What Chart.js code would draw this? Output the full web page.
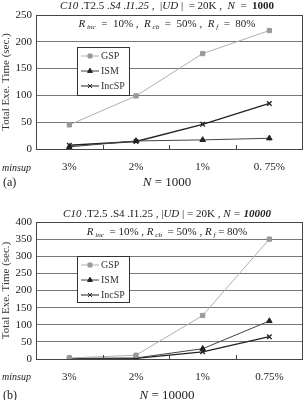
<!DOCTYPE html>
<html>
<head>
<meta charset="utf-8">
<script src="https://cdn.jsdelivr.net/npm/chart.js@4/dist/chart.umd.min.js"></script>
<style>
  body { margin: 0; background: #fff; }
  canvas { position: absolute; left: 0; }
</style>
</head>
<body>
<canvas id="chartA" width="308" height="200" style="top:0"></canvas>
<canvas id="chartB" width="308" height="200" style="top:200px"></canvas>
<script>
// DATA
const minsup = ['3%', '2%', '1%', '0.75%'];
const minsupA = ['3%', '2%', '1%', '0. 75%'];
const seriesNames = ['GSP', 'ISM', 'IncSP'];

const gspA = [45, 99, 178, 221];
const ismA = [4, 15, 17, 20];
const incA = [7, 14, 46, 85];

const gspB = [3, 11, 127, 350];
const ismB = [2, 3, 30, 111];
const incB = [1, 2, 21, 65];

const yMaxA = 250, yMaxB = 400, yStep = 50;

const SERIF = '"Liberation Serif", "DejaVu Serif", serif';

// rich text: parts are [text, style, sub]
function rich(ctx, parts, cx, y, size) {
    const fontOf = (p) => (p[1] || '').replace('b', 'bold ').replace('i', 'italic ') + (p[2] ? size * 0.65 : size) + 'px ' + SERIF;
    let total = 0;
    parts.forEach(p => { ctx.font = fontOf(p); total += ctx.measureText(p[0]).width; });
    let x = cx - total / 2;
    ctx.textBaseline = 'middle';
    ctx.textAlign = 'left';
    parts.forEach(p => {
        ctx.font = fontOf(p);
        ctx.fillText(p[0], x, p[2] ? y + 3 : y);
        x += ctx.measureText(p[0]).width;
    });
}

function makeDatasets(gsp, ism, inc) {
    return [
        { label: seriesNames[0], data: gsp, borderColor: '#b0b0b0', backgroundColor: '#999', borderWidth: 1,
          pointStyle: 'rect', pointRadius: 3, pointBorderColor: '#999', pointBackgroundColor: '#999' },
        { label: seriesNames[1], data: ism, borderColor: '#444', backgroundColor: '#222', borderWidth: 1,
          pointStyle: 'triangle', pointRadius: 3.2, pointBorderColor: '#222', pointBackgroundColor: '#222' },
        { label: seriesNames[2], data: inc, borderColor: '#222', backgroundColor: '#222', borderWidth: 1.3,
          pointStyle: 'crossRot', pointRadius: 3.2, pointBorderColor: '#222', pointBackgroundColor: '#222' }
    ];
}

// extras drawn on top: frame, ticks, titles, legend, captions
function extrasPlugin(cfg) {
    return {
        id: 'extras',
        beforeDraw(chart) {
            const ctx = chart.ctx;
            ctx.save();
            ctx.fillStyle = '#fff';
            ctx.fillRect(0, 0, chart.width, chart.height);
            ctx.restore();
        },
        afterDraw(chart) {
            const ctx = chart.ctx, a = chart.chartArea, xs = chart.scales.x;
            ctx.save();
            // frame
            ctx.strokeStyle = '#444';
            ctx.lineWidth = 1;
            ctx.strokeRect(Math.round(a.left) + 0.5, Math.round(a.top) + 0.5, Math.round(a.right - a.left) - 1, Math.round(a.bottom - a.top));
            // category boundary ticks
            for (let i = 0; i < minsup.length - 1; i++) {
                const bx = Math.round((xs.getPixelForValue(i) + xs.getPixelForValue(i + 1)) / 2) + 0.5;
                ctx.beginPath();
                ctx.moveTo(bx, a.bottom);
                ctx.lineTo(bx, a.bottom - 4);
                ctx.stroke();
            }
            ctx.fillStyle = '#222';
            rich(ctx, cfg.title, 167, cfg.titleY, 11);
            rich(ctx, cfg.sub, 167, cfg.subY, 11);

            // captions
            ctx.textBaseline = 'middle';
            ctx.textAlign = 'left';
            ctx.font = 'italic 10px ' + SERIF;
            ctx.fillText('minsup', 2, cfg.minsupY);
            ctx.font = '12px ' + SERIF;
            ctx.fillText(cfg.tag, 3, cfg.capY);
            rich(ctx, [['N', 'i'], [' = ' + cfg.n, '']], 167, cfg.capY, 13);

            // legend box
            const L = cfg.legend;
            ctx.fillStyle = '#fff';
            ctx.fillRect(L.x, L.y, L.w, L.h);
            ctx.strokeStyle = '#333';
            ctx.strokeRect(L.x + 0.5, L.y + 0.5, L.w, L.h);
            chart.data.datasets.forEach((ds, i) => {
                const ry = L.y + L.row0 + i * L.gap;
                ctx.strokeStyle = ds.borderColor;
                ctx.lineWidth = 1;
                ctx.beginPath();
                ctx.moveTo(L.x + 4, ry);
                ctx.lineTo(L.x + 22, ry);
                ctx.stroke();
                ctx.fillStyle = ds.pointBackgroundColor;
                ctx.strokeStyle = ds.pointBorderColor;
                Chart.helpers.drawPoint(ctx, { pointStyle: ds.pointStyle, radius: 2.8, borderWidth: 1, rotation: 0 }, L.x + 13, ry);
                ctx.fillStyle = '#333';
                ctx.font = '10px ' + SERIF;
                ctx.textBaseline = 'middle';
                ctx.fillText(ds.label, L.x + 24, ry);
            });
            ctx.restore();
        }
    };
}

function buildChart(id, labels, datasets, yMax, padTop, xHeight, cfg) {
    return new Chart(document.getElementById(id), {
        type: 'line',
        data: { labels: labels, datasets: datasets },
        options: {
            responsive: false,
            animation: false,
            devicePixelRatio: 1,
            layout: { padding: { top: padTop, right: 1, left: 0, bottom: 0 } },
            plugins: { legend: { display: false }, tooltip: { enabled: false } },
            elements: { line: { tension: 0 } },
            scales: {
                x: {
                    offset: true,
                    grid: { display: true, drawOnChartArea: false, drawTicks: false },
                    border: { display: true, color: '#444' },
                    ticks: { font: { family: SERIF, size: 11 }, color: '#222', padding: 12, maxRotation: 0 },
                    afterFit: s => { s.height = xHeight; }
                },
                y: {
                    min: 0, max: yMax,
                    ticks: { stepSize: yStep, font: { family: SERIF, size: 11 }, color: '#222', padding: 4 },
                    grid: { color: '#777', drawTicks: false },
                    border: { display: true, color: '#444' },
                    title: { display: true, text: 'Total Exe. Time (sec.)', font: { family: SERIF, size: 11 }, color: '#333', padding: 0 },
                    afterFit: s => { s.width = 36; }
                }
            }
        },
        plugins: [extrasPlugin(cfg)]
    });
}

const subPartsA = [['R', 'i'], [' inc', 'i', true], ['  =  10% ,  ', ''], ['R', 'i'], [' cb', 'i', true], ['  =  50% ,  ', ''], ['R', 'i'], [' f', 'i', true], ['  =  80%', '']];
const subPartsB = [['R', 'i'], [' inc', 'i', true], ['  = 10% , ', ''], ['R', 'i'], [' cb', 'i', true], ['  = 50% , ', ''], ['R', 'i'], [' f', 'i', true], [' = 80%', '']];

buildChart('chartA', minsupA, makeDatasets(gspA, ismA, incA), yMaxA, 15, 51, {
    title: [['C10', 'i'], [' .T2.5 ', ''], ['.S4 .I1.25', 'i'], [' ,  |', ''], ['UD', 'i'], [' |  = 20K ,  ', ''], ['N', 'i'], ['  =  ', ''], ['1000', 'b']],
    titleY: 6, sub: subPartsA, subY: 24,
    minsupY: 168, capY: 183, tag: '(a)', n: '1000',
    legend: { x: 77, y: 47, w: 52, h: 48, row0: 9, gap: 15 }
});

buildChart('chartB', minsup, makeDatasets(gspB, ismB, incB), yMaxB, 22, 41, {
    title: [['C10', 'i'], [' .T2.5 .S4 .I1.25 , |', ''], ['UD', 'i'], [' | = 20K , ', ''], ['N = ', 'i'], ['10000', 'bi']],
    titleY: 14, sub: subPartsB, subY: 32,
    minsupY: 177, capY: 196, tag: '(b)', n: '10000',
    legend: { x: 77, y: 56, w: 52, h: 46, row0: 9, gap: 15 }
});
</script>
</body>
</html>
